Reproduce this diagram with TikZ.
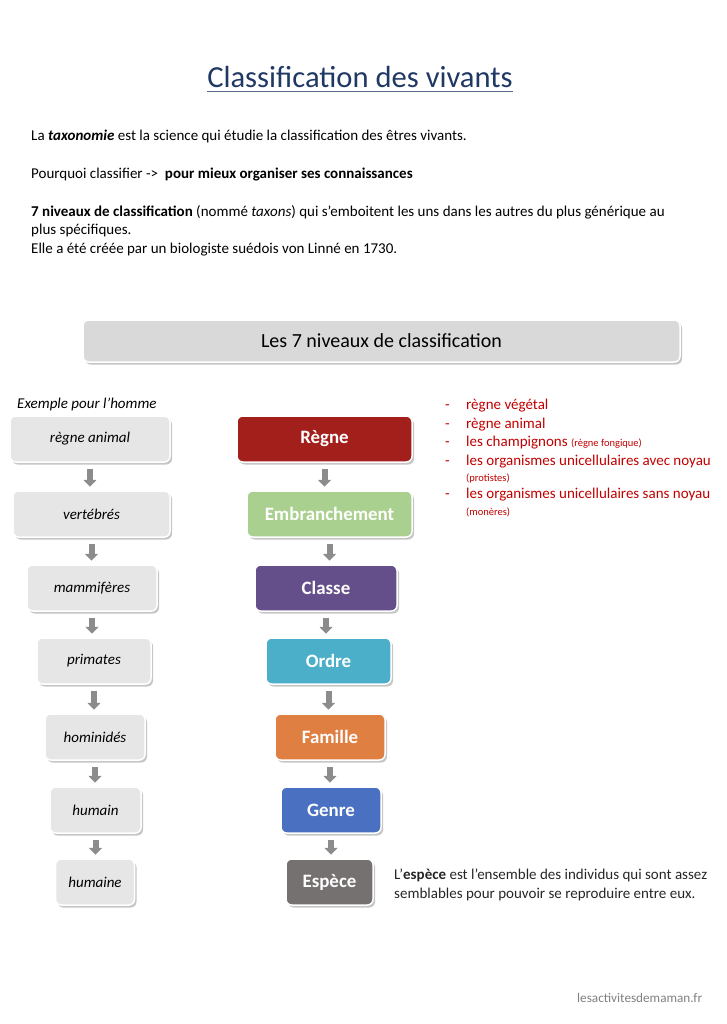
\documentclass[tikz,border=0pt]{standalone}
\usepackage{fontspec}
\setmainfont{Carlito}
\usetikzlibrary{shapes, positioning, shadows, arrows.meta}
\definecolor{titre}{HTML}{203864}
\definecolor{rouge}{HTML}{C00000}
\definecolor{bandeaugris}{HTML}{D9D9D9}
\definecolor{boitegris}{HTML}{E6E6E6}
\definecolor{flechegris}{HTML}{8C8C8C}
\definecolor{regne}{HTML}{A31F1B}
\definecolor{embranchement}{HTML}{A9D08E}
\definecolor{classe}{HTML}{654F8A}
\definecolor{ordre}{HTML}{4BAFC9}
\definecolor{famille}{HTML}{E07F42}
\definecolor{genre}{HTML}{4A70C1}
\definecolor{espece}{HTML}{767171}

\begin{document}
\begin{tikzpicture}[x=1pt, y=-1pt,
    bandeau/.style={rectangle, draw=white, line width=1.5pt, rounded corners=2mm, fill=bandeaugris,
        drop shadow={shadow xshift=2pt, shadow yshift=-2.5pt, opacity=0.45},
        text centered, minimum width=597pt, minimum height=42pt, font=\fontsize{20}{24}\selectfont, text=black},
    exemple/.style={rectangle, draw=white, line width=1.5pt, rounded corners=2mm, fill=boitegris,
        drop shadow={shadow xshift=2pt, shadow yshift=-2.5pt, opacity=0.45},
        text centered, minimum height=46pt, font=\fontsize{15}{18}\selectfont\itshape, text=black},
    niveau/.style={rectangle, draw=white, line width=1.5pt, rounded corners=2mm,
        drop shadow={shadow xshift=2pt, shadow yshift=-2.5pt, opacity=0.45},
        text centered, minimum height=46pt, font=\fontsize{18.9}{22}\selectfont\bfseries, text=white},
    texte/.style={anchor=base west, inner sep=0pt, font=\fontsize{15}{18}\selectfont, text=black},
    liste/.style={texte, text=rouge},
    petit/.style={texte, text=rouge, font=\fontsize{10.5}{12}\selectfont},
    fleche/.style={-{Triangle[width=13pt, length=7pt]}, line width=6pt, draw=flechegris,
        shorten <=6pt, shorten >=3.5pt}
]
\useasboundingbox (0,0) rectangle (727,1024);

% titre et introduction
\node (Titre) [inner sep=0pt, font=\fontsize{30.6}{36}\selectfont, text=titre] at (360,77) {Classification des vivants};
\draw [titre!75, line width=1pt] ([yshift=-4pt]Titre.base west) -- ([yshift=-4pt]Titre.base east);

\node (L01) [texte] at (31,141) {La \textbf{\textit{taxonomie}} est la science qui étudie la classification des êtres vivants.};
\node (L02) [texte] at (31,179) {Pourquoi classifier ->\ \ \textbf{pour mieux organiser ses connaissances}};
\node (L03) [texte] at (31,217) {\textbf{7 niveaux de classification} (nommé \textit{taxons}) qui s’emboitent les uns dans les autres du plus générique au};
\node (L04) [texte] at (31,235) {plus spécifiques.};
\node (L05) [texte] at (31,253) {Elle a été créée par un biologiste suédois von Linné en 1730.};

\node (Bandeau) [bandeau] at (381.5,341) {Les 7 niveaux de classification};

% exemple pour l'homme
\node (Ex00) [texte, font=\fontsize{15}{18}\selectfont\itshape] at (17,408) {Exemple pour l’homme};
\node (E01) [exemple, minimum width=160pt] at (90,439) {règne animal};
\node (E02) [exemple, minimum width=157pt] at (91.5,514) {vertébrés};
\node (E03) [exemple, minimum width=130pt] at (92,588) {mammifères};
\node (E04) [exemple, minimum width=114pt] at (94,661) {primates};
\node (E05) [exemple, minimum width=100pt] at (95,737) {hominidés};
\node (E06) [exemple, minimum width=91pt] at (95.5,810) {humain};
\node (E07) [exemple, minimum width=79pt] at (95,882) {humaine};

% les 7 niveaux
\node (N01) [niveau, fill=regne, minimum width=175pt] at (324.5,439) {Règne};
\node (N02) [niveau, fill=embranchement, minimum width=165pt] at (329.5,514) {Embranchement};
\node (N03) [niveau, fill=classe, minimum width=142pt] at (326,588) {Classe};
\node (N04) [niveau, fill=ordre, minimum width=125pt] at (328.5,661) {Ordre};
\node (N05) [niveau, fill=famille, minimum width=110pt] at (330,737) {Famille};
\node (N06) [niveau, fill=genre, minimum width=100pt] at (331,810) {Genre};
\node (N07) [niveau, fill=espece, minimum width=87pt] at (329.5,882) {Espèce};

\draw [fleche] (E01.south) -- (E01.south |- E02.north);
\draw [fleche] (E02.south) -- (E02.south |- E03.north);
\draw [fleche] (E03.south) -- (E03.south |- E04.north);
\draw [fleche] (E04.south) -- (E04.south |- E05.north);
\draw [fleche] (E05.south) -- (E05.south |- E06.north);
\draw [fleche] (E06.south) -- (E06.south |- E07.north);

\draw [fleche] (N01.south) -- (N01.south |- N02.north);
\draw [fleche] (N02.south) -- (N02.south |- N03.north);
\draw [fleche] (N03.south) -- (N03.south |- N04.north);
\draw [fleche] (N04.south) -- (N04.south |- N05.north);
\draw [fleche] (N05.south) -- (N05.south |- N06.north);
\draw [fleche] (N06.south) -- (N06.south |- N07.north);

% les regnes
\node (T01) [liste] at (445,409) {-};
\node (R01) [liste] at (466,409) {règne végétal};
\node (T02) [liste] at (445,428) {-};
\node (R02) [liste] at (466,428) {règne animal};
\node (T03) [liste] at (445,446) {-};
\node (R03) [liste] at (466,446) {les champignons {\fontsize{10.5}{12}\selectfont(règne fongique)}};
\node (T04) [liste] at (445,465) {-};
\node (R04) [liste] at (466,465) {les organismes unicellulaires avec noyau};
\node (R05) [petit] at (466,481) {(protistes)};
\node (T06) [liste] at (445,498) {-};
\node (R06) [liste] at (466,498) {les organismes unicellulaires sans noyau};
\node (R07) [petit] at (466,515) {(monères)};

% definition de l'espece
\node (D01) [texte, text=black!85] at (394,879) {L’\textbf{espèce} est l’ensemble des individus qui sont assez};
\node (D02) [texte, text=black!85] at (394,898) {semblables pour pouvoir se reproduire entre eux.};

\node (Site) [texte, text=black!50, font=\fontsize{13.2}{15}\selectfont] at (577,1002) {lesactivitesdemaman.fr};
\end{tikzpicture}
\end{document}
